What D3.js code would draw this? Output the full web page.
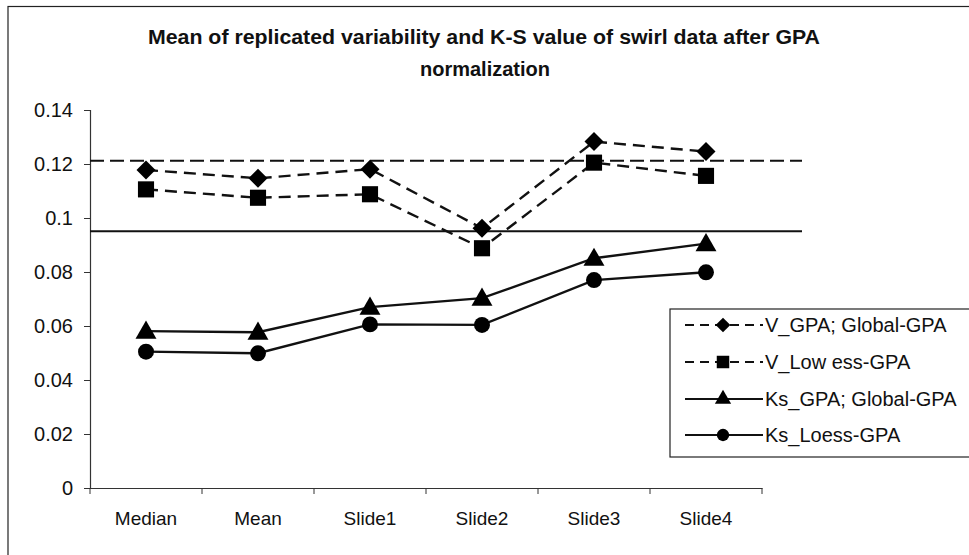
<!DOCTYPE html>
<html>
<head>
<meta charset="utf-8">
<script src="https://cdn.jsdelivr.net/npm/d3@7"></script>
<style>
  html, body { margin: 0; padding: 0; background: #fff; }
  svg { display: block; font-family: "Liberation Sans", Arial, sans-serif; }
</style>
</head>
<body>
<svg id="chart" width="969" height="555"></svg>
<script>
// Categories along the x axis
const categories = ["Median", "Mean", "Slide1", "Slide2", "Slide3", "Slide4"];

// Series values
const vGpaGlobal   = [0.1178, 0.1147, 0.1181, 0.0962, 0.1283, 0.1246];
const vLowessGpa   = [0.1106, 0.1075, 0.1088, 0.0888, 0.1205, 0.1156];
const ksGpaGlobal  = [0.0581, 0.0577, 0.0670, 0.0703, 0.0851, 0.0905];
const ksLoessGpa   = [0.0505, 0.0499, 0.0606, 0.0604, 0.0770, 0.0799];

// Threshold lines across the plot
const dashedThreshold = 0.1212;
const solidThreshold  = 0.0951;

// Tick labels on the y axis
const yTicks = [0, 0.02, 0.04, 0.06, 0.08, 0.1, 0.12, 0.14];
const yTickLabels = ["0", "0.02", "0.04", "0.06", "0.08", "0.1", "0.12", "0.14"];

const seriesNames = ["V_GPA; Global-GPA", "V_Low ess-GPA", "Ks_GPA; Global-GPA", "Ks_Loess-GPA"];
const seriesValues = [vGpaGlobal, vLowessGpa, ksGpaGlobal, ksLoessGpa];
const seriesDash = ["12,7", "12,7", null, null];
const seriesSymbol = [d3.symbolDiamond2, d3.symbolSquare, d3.symbolTriangle, d3.symbolCircle];
const seriesSymbolSize = [230, 260, 190, 200];

const svg = d3.select("#chart");

// Outer frame
svg.append("rect")
  .attr("x", 8).attr("y", 6.5).attr("width", 980).attr("height", 560)
  .attr("fill", "none").attr("stroke", "#222").attr("stroke-width", 1.2);

// Title
const title = svg.append("text")
  .attr("text-anchor", "middle")
  .attr("font-weight", "bold")
  .attr("font-size", 20)
  .attr("fill", "#111");
title.append("tspan").attr("x", 484).attr("y", 44)
  .attr("textLength", 672).attr("lengthAdjust", "spacingAndGlyphs")
  .text("Mean of replicated variability and K-S value of swirl data after GPA");
title.append("tspan").attr("x", 485).attr("y", 76)
  .text("normalization");

const x0 = 90, x1 = 762, yTop = 110, yBottom = 488;

const x = d3.scaleBand().domain(categories).range([x0, x1]);
const y = d3.scaleLinear().domain([0, 0.14]).range([yBottom, yTop]);

// Y axis
const yAxis = svg.append("g")
  .attr("transform", `translate(${x0},0)`)
  .call(d3.axisLeft(y).tickValues(yTicks)
    .tickFormat((d, i) => yTickLabels[i]).tickSize(6).tickPadding(11));
yAxis.select(".domain").attr("stroke", "#333").attr("stroke-width", 1.2);
yAxis.selectAll(".tick line").attr("stroke", "#333");
yAxis.selectAll(".tick text")
  .attr("font-size", 20).attr("fill", "#111")
  .attr("font-family", "Liberation Sans, Arial, sans-serif");

// X axis with ticks on category boundaries
const xAxis = svg.append("g")
  .attr("transform", `translate(0,${yBottom})`)
  .call(d3.axisBottom(x).tickSize(0).tickPadding(24));
xAxis.select(".domain").attr("stroke", "#333").attr("stroke-width", 1.2);
xAxis.selectAll(".tick text")
  .attr("font-size", 19).attr("fill", "#111")
  .attr("font-family", "Liberation Sans, Arial, sans-serif");
const boundaries = categories.map(c => x(c)).concat([x1]);
xAxis.selectAll("line.bound").data(boundaries).enter().append("line")
  .attr("class", "bound")
  .attr("x1", d => d).attr("x2", d => d)
  .attr("y1", 0).attr("y2", 6)
  .attr("stroke", "#333");

// Threshold lines
const refEnd = 802;
svg.append("line")
  .attr("x1", x0).attr("x2", refEnd)
  .attr("y1", y(dashedThreshold)).attr("y2", y(dashedThreshold))
  .attr("stroke", "#111").attr("stroke-width", 2.2).attr("stroke-dasharray", "14,6");
svg.append("line")
  .attr("x1", x0).attr("x2", refEnd)
  .attr("y1", y(solidThreshold)).attr("y2", y(solidThreshold))
  .attr("stroke", "#111").attr("stroke-width", 2.2);

// Series lines and markers
const cx = c => x(c) + x.bandwidth() / 2;
const line = d3.line().x((d, i) => cx(categories[i])).y(d => y(d));

seriesValues.forEach((vals, s) => {
  svg.append("path")
    .attr("d", line(vals))
    .attr("fill", "none")
    .attr("stroke", "#111")
    .attr("stroke-width", 2.4)
    .attr("stroke-dasharray", seriesDash[s]);
  svg.selectAll(null).data(vals).enter().append("path")
    .attr("d", d3.symbol().type(seriesSymbol[s]).size(seriesSymbolSize[s]))
    .attr("transform", (d, i) => `translate(${cx(categories[i])},${y(d) + (s === 2 ? 1.5 : 0)})`)
    .attr("fill", "#000");
});

// Legend
const legend = svg.append("g");
legend.append("rect")
  .attr("x", 670).attr("y", 309).attr("width", 320).attr("height", 148)
  .attr("fill", "#fff").attr("stroke", "#222").attr("stroke-width", 1.2);
const rowY = [325, 362, 399, 435];
seriesNames.forEach((name, s) => {
  const g = legend.append("g").attr("transform", `translate(0,${rowY[s]})`);
  g.append("line")
    .attr("x1", 685).attr("x2", 763)
    .attr("stroke", "#111").attr("stroke-width", 2)
    .attr("stroke-dasharray", seriesDash[s] ? "9,6" : null);
  g.append("path")
    .attr("d", d3.symbol().type(seriesSymbol[s]).size(seriesSymbolSize[s] * 0.6))
    .attr("transform", "translate(723,0)")
    .attr("fill", "#000");
  g.append("text")
    .attr("x", 765).attr("y", 7)
    .attr("font-size", 20).attr("fill", "#111")
    .text(name);
});
</script>
</body>
</html>
